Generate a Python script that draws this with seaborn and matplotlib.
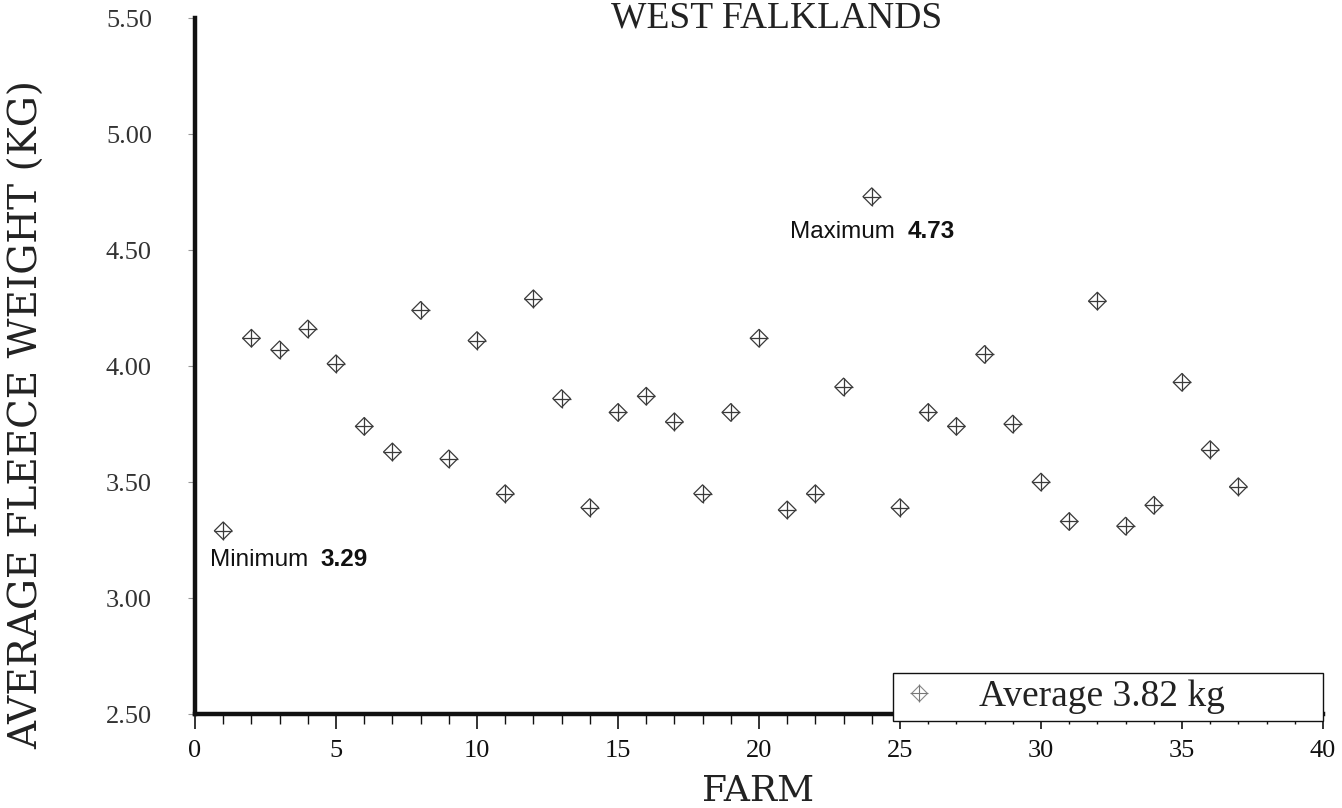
import numpy as np
import pandas as pd
import matplotlib
matplotlib.use("Agg")
import matplotlib.pyplot as plt
import seaborn as sns
from matplotlib.lines import Line2D
from matplotlib.legend_handler import HandlerTuple
from matplotlib.ticker import MultipleLocator, FixedLocator, FixedFormatter

# ---------------- data ----------------
farms = list(range(1, 38))
fleece_kg = [3.29, 4.12, 4.07, 4.16, 4.01, 3.74, 3.63, 4.24, 3.60, 4.11,
             3.45, 4.29, 3.86, 3.39, 3.80, 3.87, 3.76, 3.45, 3.80, 4.12,
             3.38, 3.45, 3.91, 4.73, 3.39, 3.80, 3.74, 4.05, 3.75, 3.50,
             3.33, 4.28, 3.31, 3.40, 3.93, 3.64, 3.48]
x_ticks = [0, 5, 10, 15, 20, 25, 30, 35, 40]
y_ticks = [2.5, 3.0, 3.5, 4.0, 4.5, 5.0, 5.5]
y_tick_labels = ["2.50", "3.00", "3.50", "4.00", "4.50", "5.00", "5.50"]
title = "WEST FALKLANDS"
x_label = "FARM"
y_label = "AVERAGE FLEECE WEIGHT (KG)"
legend_label = "Average 3.82 kg"
min_word, min_value = "Minimum", "3.29"
max_word, max_value = "Maximum", "4.73"

# ---------------- style ----------------
sns.set_style("white")
plt.rcParams["font.family"] = ["Liberation Serif", "DejaVu Serif"]
serif = ["Liberation Serif", "DejaVu Serif"]
wide_serif = ["DejaVu Serif", "Liberation Serif"]
sans = ["Liberation Sans", "DejaVu Sans"]
mark_color = "#3a3a3a"

fig = plt.figure(figsize=(13.42, 8.08), dpi=100)
ax = fig.add_axes([0.1453, 0.1163, 0.8405, 0.8614])

df = pd.DataFrame({"farm": farms, "kg": fleece_kg})
sns.scatterplot(data=df, x="farm", y="kg", marker="D", s=80,
                linewidth=0.9, ax=ax, zorder=3)
ax.collections[-1].set_facecolor("none")
ax.collections[-1].set_edgecolor(mark_color)
sns.scatterplot(data=df, x="farm", y="kg", marker="+", s=170,
                color=mark_color, linewidth=0.9, ax=ax, zorder=3)

ax.set_xlim(0, 40)
ax.set_ylim(2.5, 5.5)

# spines
for side in ("top", "right"):
    ax.spines[side].set_visible(False)
for side in ("left", "bottom"):
    ax.spines[side].set_linewidth(3.2)
    ax.spines[side].set_color("#111111")

# ticks
ax.xaxis.set_major_locator(FixedLocator(x_ticks))
ax.xaxis.set_minor_locator(MultipleLocator(1))
ax.yaxis.set_major_locator(FixedLocator(y_ticks))
ax.yaxis.set_major_formatter(FixedFormatter(y_tick_labels))
ax.tick_params(axis="x", which="major", direction="out", length=11, width=1.2,
               pad=8, labelsize=19, colors="#111111", bottom=True)
ax.tick_params(axis="x", which="minor", direction="out", length=7, width=1.0,
               color="#111111", bottom=True)
ax.tick_params(axis="y", which="major", direction="out", length=5, width=0.8,
               pad=26, labelsize=19, color="#999999", labelcolor="#333333", left=True)
for lab in ax.get_xticklabels() + ax.get_yticklabels():
    lab.set_family(serif)

# axis labels
ax.set_xlabel(x_label, family=wide_serif, fontsize=26, color="#222222", va="top")
ax.xaxis.set_label_coords(0.499, -0.086)
ax.set_ylabel(y_label, family=wide_serif, fontsize=28, color="#222222")
ax.yaxis.set_label_coords(-0.132, 0.43)

# title
fig.text(0.579, 1 - 27 / 808, title, ha="center", va="baseline",
         family=serif, fontsize=27, color="#222222")

# min / max annotations
t_min = ax.text(0.53, 3.115, min_word, family=sans, fontsize=17.5,
                va="bottom", ha="left", color="#111111")
ax.annotate(min_value, xy=(1, 0), xycoords=t_min, xytext=(9, 0),
            textcoords="offset points", family=sans, fontsize=17.5,
            fontweight="bold", va="bottom", ha="left", color="#111111")
t_max = ax.text(21.1, 4.53, max_word, family=sans, fontsize=17.5,
                va="bottom", ha="left", color="#111111")
ax.annotate(max_value, xy=(1, 0), xycoords=t_max, xytext=(9, 0),
            textcoords="offset points", family=sans, fontsize=17.5,
            fontweight="bold", va="bottom", ha="left", color="#111111")

# legend
handle = (Line2D([], [], marker="D", ls="none", mfc="none", mec="#888888", ms=8, mew=0.8),
          Line2D([], [], marker="+", ls="none", mec="#777777", ms=13, mew=0.8))
leg = ax.legend([handle], [legend_label],
                handler_map={tuple: HandlerTuple(ndivide=1)},
                loc="lower left", bbox_to_anchor=(0.619, -0.01, 0.381, 0.08),
                mode="expand", borderaxespad=0, frameon=True, fancybox=False,
                edgecolor="#111111", framealpha=1,
                prop={"family": serif, "size": 27},
                handlelength=1.0, handletextpad=1.1, borderpad=0.18)
leg.get_frame().set_linewidth(1.0)
for t in leg.get_texts():
    t.set_color("#222222")

fig.savefig("out.png", dpi=100)
